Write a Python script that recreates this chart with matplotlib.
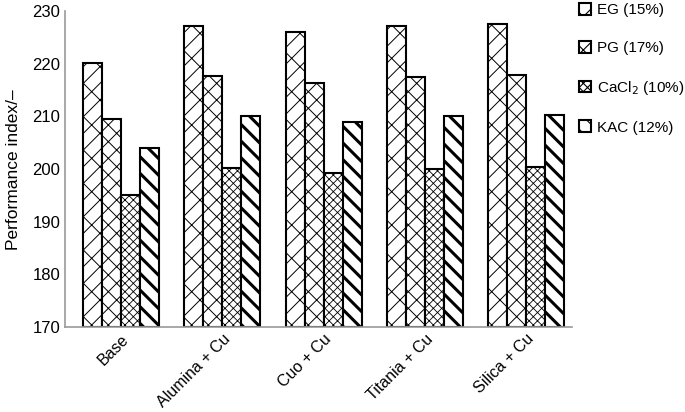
import numpy as np
import matplotlib.pyplot as plt

groups = ['Base', 'Alumina + Cu', 'Cuo + Cu', 'Titania + Cu', 'Silica + Cu']
series = ['EG (15%)', 'PG (17%)', 'CaCl$_2$ (10%)', 'KAC (12%)']
eg = [220.2, 227.2, 226.0, 227.2, 227.6]
pg = [209.5, 217.6, 216.4, 217.4, 217.8]
cacl2 = [195.0, 200.3, 199.3, 200.1, 200.4]
kac = [204.0, 210.0, 208.9, 210.0, 210.2]

plt.rcParams['font.family'] = ['Liberation Sans', 'DejaVu Sans']
plt.rcParams['hatch.linewidth'] = 0.8

fig = plt.figure(figsize=(6.85, 4.12), dpi=100)
ax = fig.add_axes([0.095, 0.206, 0.74, 0.767])

x = np.arange(len(groups))
w = 0.187
hatches = ['/x', '\\/\\/', 'xxxx', '\\\\']
hlw = [0.7, 0.7, 0.6, 2.2]
for i, (vals, h) in enumerate(zip([eg, pg, cacl2, kac], hatches)):
    bars = ax.bar(x + (i - 1.5) * w, np.array(vals) - 170, w, bottom=170,
                  facecolor='white', edgecolor='black', linewidth=1.5,
                  hatch=h, label=series[i])
    for b in bars:
        try:
            b.set_hatch_linewidth(hlw[i])
        except AttributeError:
            pass

ax.set_ylim(170, 230)
ax.set_xlim(-0.55, 4.45)
ax.set_yticks(range(170, 231, 10))
ax.set_xticks(x)
ax.set_xticklabels(groups, rotation=45, ha='right', rotation_mode='anchor', fontsize=11.5)
ax.tick_params(axis='y', labelsize=12, length=0)
ax.tick_params(axis='x', length=0, pad=3)
ax.set_ylabel('Performance index/–', fontsize=12.5, labelpad=8)
for s in ['top', 'right']:
    ax.spines[s].set_visible(False)
for s in ['left', 'bottom']:
    ax.spines[s].set_color('#999999')
    ax.spines[s].set_linewidth(1.2)

fig.legend(loc='upper left', bbox_to_anchor=(576 / 685, 1.0), frameon=False,
           fontsize=11, labelspacing=1.55, handlelength=0.8, handleheight=0.8,
           handletextpad=0.4, borderpad=0.2, borderaxespad=0)

fig.savefig('out.png', dpi=100)
